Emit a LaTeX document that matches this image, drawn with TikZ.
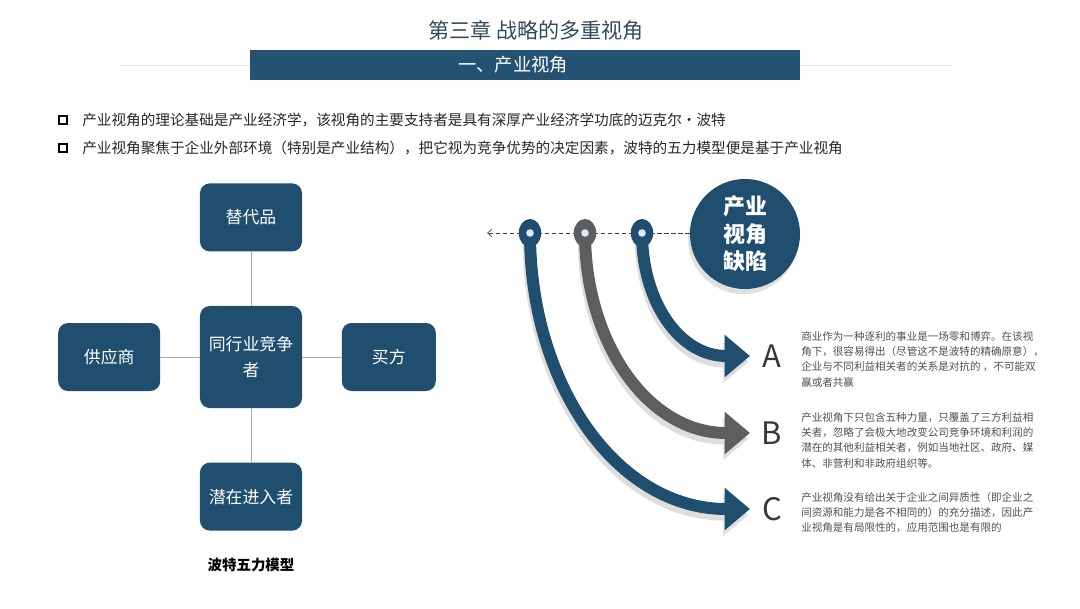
\documentclass[tikz,border=0pt]{standalone}
\usepackage{fontspec}
\setmainfont{Noto Sans CJK SC}
\usepackage{tikz}
\usetikzlibrary{arrows.meta,positioning,shapes.geometric}
\definecolor{porterblue}{HTML}{1F4E6F}
\definecolor{bannerblue}{HTML}{235272}
\definecolor{arrowgray}{HTML}{5E5E5E}
\definecolor{titlegray}{HTML}{34495A}
\definecolor{notegray}{HTML}{505050}
\definecolor{pindot}{HTML}{D8ECF6}
\tikzstyle{force} = [rectangle, rounded corners=7pt, fill=porterblue, text=white, minimum width=2.55cm, minimum height=1.7cm, align=center, font=\fontsize{12}{18}\selectfont]
\tikzstyle{rival} = [force, minimum height=2.55cm]
\tikzstyle{link} = [draw=gray!65, line width=0.6pt]
\tikzstyle{bullet} = [rectangle, draw=black, line width=1.1pt, minimum size=5.5pt, inner sep=0pt]
\tikzstyle{bullettext} = [anchor=west, inner sep=0pt, text=black!85, font=\fontsize{10.4}{13}\selectfont]
\tikzstyle{gap} = [-{Triangle[length=18pt,width=29pt]}, line width=8.5pt]
\tikzstyle{gapshadow} = [gap, draw=black!13, transform canvas={shift={(-1pt,-4pt)}}]
\tikzstyle{pin} = [ellipse, minimum width=16pt, minimum height=20pt, inner sep=0pt]
\tikzstyle{note} = [anchor=north west, inner sep=0pt, align=left, text=notegray, font=\fontsize{7.5}{10.9}\selectfont]
\tikzstyle{letter} = [text=black!78, font=\fontsize{22}{22}\selectfont]

\begin{document}
\begin{tikzpicture}[x=0.025cm, y=-0.025cm, node distance=1.35cm and 0.98cm]
	\useasboundingbox (0,0) rectangle (1080,608);
	
	% title and banner
	\node [text=titlegray, font=\fontsize{15}{18}\selectfont] (title) at (536,30) {第三章 战略的多重视角};
	\draw [gray!20, line width=0.6pt] (120,65) -- (952,65);
	\node [rectangle, fill=bannerblue, minimum width=13.75cm, minimum height=0.75cm, inner sep=0pt] (banner) at (525,65) {};
	\node [text=white, font=\fontsize{13}{16}\selectfont] (bannertext) at (513,65) {一、产业视角};
	
	\node [bullet] (dot1) at (63,120) {};
	\node [bullet] (dot2) at (63,148) {};
	\node [bullettext] (line1) at (82,120) {产业视角的理论基础是产业经济学，该视角的主要支持者是具有深厚产业经济学功底的迈克尔·波特};
	\node [bullettext] (line2) at (82,148) {产业视角聚焦于企业外部环境（特别是产业结构），把它视为竞争优势的决定因素，波特的五力模型便是基于产业视角};
	
	% five forces
	\node [rival] (rival) at (251,357) {同行业竞争\\者};
	\node [force, above = of rival] (substitute) {替代品};
	\node [force, left = of rival] (supplier) {供应商};
	\node [force, right = of rival, minimum width=2.35cm] (buyer) {买方};
	\node [force, below = of rival] (entrant) {潜在进入者};
	\node [font=\fontsize{10.3}{13}\selectfont\bfseries, below = 0.55cm of entrant] (model) {波特五力模型};
	
	\draw [link] (substitute) -- (rival);
	\draw [link] (supplier) -- (rival);
	\draw [link] (rival) -- (buyer);
	\draw [link] (rival) -- (entrant);
	
	% defects
	\fill [black!12] (743,239) circle (55);
	\node [circle, fill=porterblue, minimum size=2.75cm, text=white, align=center, font=\fontsize{15.6}{19.5}\selectfont\bfseries] (defect) at (745,234) {产业\\视角\\缺陷};
	\coordinate (dashend) at (487,233);
	\draw [black!75, line width=0.5pt, dash pattern=on 3pt off 2pt, -{Straight Barb[length=3pt,width=5pt]}] (defect.west |- 0,233) -- (dashend);
	
	\coordinate (pinC) at (530,233);
	\coordinate (pinB) at (585,233);
	\coordinate (pinA) at (642,233);
	\coordinate (tipA) at (750,356);
	\coordinate (tipB) at (750,433);
	\coordinate (tipC) at (750,509);
	
	\draw [gapshadow] (pinC) .. controls +(0,152) and +(-133,0) .. (tipC);
	\draw [gapshadow] (pinB) .. controls +(0,110) and +(-102,0) .. (tipB);
	\draw [gapshadow] (pinA) .. controls +(0,68) and +(-71,0) .. (tipA);
	\draw [gap, draw=porterblue] (pinC) .. controls +(0,152) and +(-133,0) .. (tipC);
	\draw [gap, draw=arrowgray] (pinB) .. controls +(0,110) and +(-102,0) .. (tipB);
	\draw [gap, draw=porterblue] (pinA) .. controls +(0,68) and +(-71,0) .. (tipA);
	
	\node [pin, fill=porterblue] (ringC) at (pinC) {};
	\node [pin, fill=arrowgray] (ringB) at (pinB) {};
	\node [pin, fill=porterblue] (ringA) at (pinA) {};
	\fill [pindot] (ringC) circle (2.7pt);
	\fill [pindot] (ringB) circle (2.7pt);
	\fill [pindot] (ringA) circle (2.7pt);
	
	\node [letter] (A) at (772,356) {A};
	\node [letter] (B) at (772,433) {B};
	\node [letter] (C) at (772,509) {C};
	
	\node [note] (noteA) at (801,331) {商业作为一种逐利的事业是一场零和博弈。在该视\\角下，很容易得出（尽管这不是波特的精确原意），\\企业与不同利益相关者的关系是对抗的 ，不可能双\\赢或者共赢};
	\node [note] (noteB) at (801,412) {产业视角下只包含五种力量，只覆盖了三方利益相\\关者，忽略了会极大地改变公司竞争环境和利润的\\潜在的其他利益相关者，例如当地社区、政府、媒\\体、非营利和非政府组织等。};
	\node [note] (noteC) at (801,492) {产业视角没有给出关于企业之间异质性（即企业之\\间资源和能力是各不相同的）的充分描述，因此产\\业视角是有局限性的，应用范围也是有限的};
	
\end{tikzpicture}
\end{document}
